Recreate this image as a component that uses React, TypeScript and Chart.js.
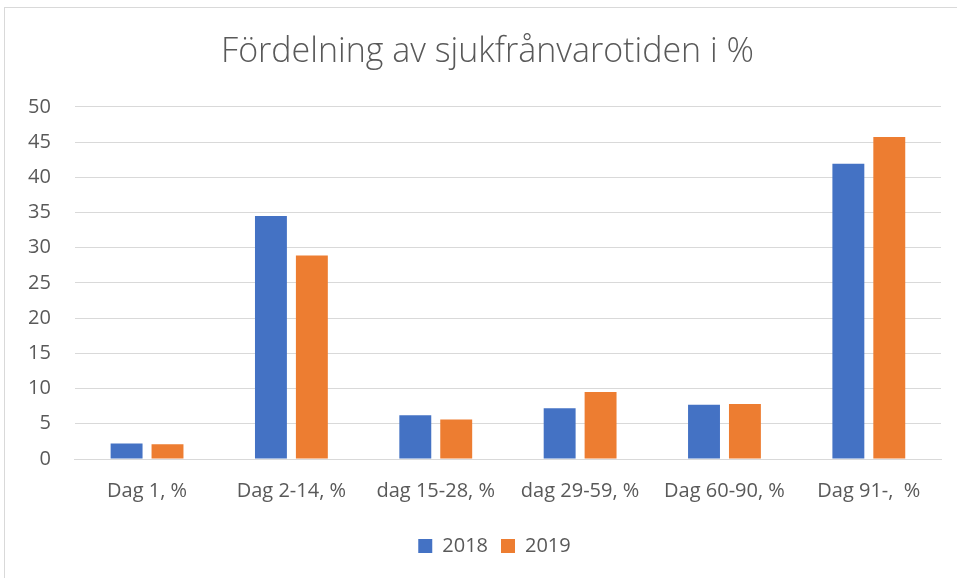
import React, { useEffect, useRef } from "react";
import { Chart, registerables } from "chart.js";

Chart.register(...registerables);

const title = "Fördelning av sjukfrånvarotiden i %";
const categories = ["Dag 1, %", "Dag 2-14, %", "dag 15-28, %", "dag 29-59, %", "Dag 60-90, %", "Dag 91-,  %"];
const series2018 = [2.2, 34.5, 6.2, 7.2, 7.7, 41.9];
const series2019 = [2.1, 28.9, 5.6, 9.5, 7.8, 45.7];
const yTicks = [0, 5, 10, 15, 20, 25, 30, 35, 40, 45, 50];

const shiftPlugin = {
  id: "shiftBoxes",
  afterLayout(chart: any) {
    if (chart.titleBlock) {
      chart.titleBlock.left += 15;
      chart.titleBlock.right += 15;
    }
    if (chart.legend) {
      chart.legend.left += 22;
      chart.legend.right += 22;
    }
  },
};

export default function App() {
  const ref = useRef<HTMLCanvasElement>(null);
  useEffect(() => {
    if (!ref.current) return;
    const font = "'Open Sans', sans-serif";
    const chart = new Chart(ref.current, {
      type: "bar",
      data: {
        labels: categories,
        datasets: [
          { label: "2018", data: series2018, backgroundColor: "#4472C4", categoryPercentage: 0.567, barPercentage: 0.78 },
          { label: "2019", data: series2019, backgroundColor: "#ED7D31", categoryPercentage: 0.567, barPercentage: 0.78 },
        ],
      },
      plugins: [shiftPlugin],
      options: {
        animation: false,
        responsive: false,
        layout: { padding: { left: 4, right: 16, top: 32, bottom: 12 } },
        plugins: {
          title: {
            display: true,
            text: title,
            color: "#595959",
            font: { family: font, size: 34, weight: "300" as any },
            padding: { top: 0, bottom: 34 },
          },
          legend: {
            position: "bottom",
            labels: {
              color: "#595959",
              font: { family: font, size: 20 },
              boxWidth: 14,
              boxHeight: 14,
              padding: 13,
            },
          },
          tooltip: { enabled: false },
        },
        scales: {
          x: {
            grid: { display: false, drawTicks: false },
            border: { color: "#d9d9d9", width: 1 },
            ticks: { color: "#595959", font: { family: font, size: 20 }, padding: 20, maxRotation: 0 },
          },
          y: {
            min: 0,
            max: 50,
            afterBuildTicks: (axis: any) => {
              axis.ticks = yTicks.map((v) => ({ value: v }));
            },
            grid: { color: "#d9d9d9", lineWidth: 1, drawTicks: false },
            border: { display: false },
            ticks: { color: "#595959", font: { family: font, size: 20 }, padding: 24 },
          },
        },
      },
    });
    return () => chart.destroy();
  }, []);
  return (
    <div style={{ position: "fixed", left: 0, top: 0, width: 957, height: 578, background: "#fff", overflow: "hidden" }}>
      <div style={{ position: "absolute", left: 4, top: 7, width: 970, height: 600, border: "1px solid #d9d9d9" }} />
      <canvas ref={ref} width={957} height={578} style={{ position: "absolute", left: 0, top: 0 }} />
    </div>
  );
}
